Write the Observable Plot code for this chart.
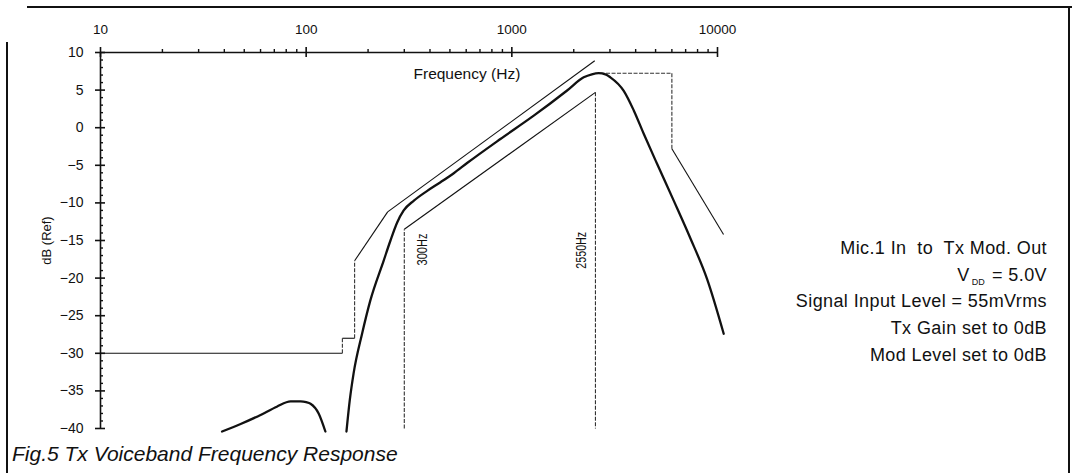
<!DOCTYPE html>
<html>
<head>
<meta charset="utf-8">
<script src="https://cdn.jsdelivr.net/npm/d3@7"></script>
<script src="https://cdn.jsdelivr.net/npm/@observablehq/plot@0.6"></script>
<style>
  html, body { margin: 0; padding: 0; background: #fff; }
  #wrap { position: relative; width: 1074px; height: 473px; overflow: hidden; background: #fff;
          font-family: "Liberation Sans", Arial, Helvetica, sans-serif; color: #111; }
  #chart { position: absolute; left: 0; top: 0; }
  .border { position: absolute; background: #111; }
  #notes { position: absolute; right: 27px; top: 235px; text-align: right; font-size: 18px; letter-spacing: 0.4px; }
  #notes div { height: 26.7px; line-height: 26.7px; white-space: pre; }
  #notes .sub { font-size: 9px; vertical-align: -4px; letter-spacing: 0; margin-left: 2px; margin-right: 2px; }
  #caption { position: absolute; left: 12px; top: 443px; font-size: 21px; line-height: 21px; font-style: italic; white-space: nowrap; }
</style>
</head>
<body>
<div id="wrap">
  <div id="chart"></div>
  <div class="border" style="left:27px; top:6px; width:1045px; height:2px;"></div>
  <div class="border" style="left:1068px; top:6px; width:2px; height:467px;"></div>
  <div class="border" style="left:6px; top:42px; width:2px; height:431px;"></div>
  <div id="notes"></div>
  <div id="caption"></div>
</div>
<script>
// ---------- data ----------
const majorFreq = [10, 100, 1000, 10000];
const minorFreq = [20, 30, 40, 50, 60, 70, 80, 90,
                   200, 300, 400, 500, 600, 700, 800, 900,
                   2000, 3000, 4000, 5000, 6000, 7000, 8000, 9000];
const majorDb = [10, 5, 0, -5, -10, -15, -20, -25, -30, -35, -40];
const minorDb = [9, 8, 7, 6, 4, 3, 2, 1, -1, -2, -3, -4, -6, -7, -8, -9,
                 -11, -12, -13, -14, -16, -17, -18, -19, -21, -22, -23, -24,
                 -26, -27, -28, -29, -31, -32, -33, -34, -36, -37, -38, -39];

// measured response (thick curve), main band
const respFreq = [157, 163, 170, 187, 205, 238, 257, 277, 298, 334, 388, 450, 522, 606, 880, 1278, 1857, 2236, 2450, 2645, 2850, 3014, 3500, 3916, 4378, 5083, 6125, 7380, 8893, 10720];
const respDb   = [-40.4, -36.2, -32.7, -27.4, -23.0, -17.7, -15.0, -12.6, -11.0, -9.7, -8.4, -7.25, -6.05, -4.7, -1.5, 1.6, 4.95, 6.7, 7.1, 7.25, 7.1, 6.7, 4.9, 2.3, -0.8, -4.8, -9.7, -14.7, -20.1, -27.4];
// measured response, low-frequency lobe
const lobeFreq = [39, 48, 60, 72, 84, 94, 100, 105, 115, 124];
const lobeDb   = [-40.4, -39.4, -38.2, -37.1, -36.4, -36.4, -36.5, -36.7, -38.0, -40.4];

// upper limit mask (low side and high side) and lower limit mask
const upperLowFreq  = [10, 150, 150, 172, 172, 249, 2530];
const upperLowDb    = [-30, -30, -28, -28, -17.7, -11.2, 8.9];
const upperHighFreq = [2700, 6000, 6000, 10700];
const upperHighDb   = [7.25, 7.25, -2.8, -14.2];
const lowerFreq     = [300, 300, 2550, 2550];
const lowerDb       = [-40, -13.5, 4.7, -40];

const markerFreq   = [300, 2550];
const markerLabels = ["300Hz", "2550Hz"];

const xLabel = "Frequency (Hz)";
const yLabel = "dB (Ref)";
const noteLines = ["Mic.1 In  to  Tx Mod. Out", "V|DD| = 5.0V", "Signal Input Level = 55mVrms", "Tx Gain set to 0dB", "Mod Level set to 0dB"];
const captionText = "Fig.5 Tx Voiceband Frequency Response";

// ---------- build tables ----------
const toPts = (fs, ds) => fs.map((f, i) => ({f, db: ds[i]}));
function segments(fs, ds) {
  const s = [];
  for (let i = 0; i + 1 < fs.length; i++) {
    s.push({f1: fs[i], d1: ds[i], f2: fs[i + 1], d2: ds[i + 1],
            dashed: fs[i] === fs[i + 1] || (ds[i] === ds[i + 1] && ds[i] > 0)});
  }
  return s;
}
const maskSegs = [
  ...segments(upperLowFreq, upperLowDb),
  ...segments(upperHighFreq, upperHighDb),
  ...segments(lowerFreq, lowerDb)
];
const markers = markerFreq.map((f, i) => ({f, label: markerLabels[i]}));
const fmt = d => (d < 0 ? "\u2212" + Math.abs(d) : String(d));

const ink = "#111";
const plot = Plot.plot({
  width: 1074,
  height: 432,
  marginTop: 52,
  marginBottom: 4,
  marginLeft: 100,
  marginRight: 357,
  x: {type: "log", domain: [10, 10000], axis: null},
  y: {domain: [-40, 10], axis: null},
  style: {fontFamily: "'Liberation Sans', Arial, Helvetica, sans-serif", fontSize: "13px", background: "#fff", overflow: "visible", color: ink},
  marks: [
    // axes lines
    Plot.ruleY([10], {stroke: ink, strokeWidth: 1.6}),
    Plot.ruleX([10], {stroke: ink, strokeWidth: 1.6}),
    // x ticks
    Plot.ruleX(majorFreq, {x: d => d, y1: 10, y2: 10, insetTop: -5, insetBottom: -5, stroke: ink, strokeWidth: 1.6}),
    Plot.ruleX(minorFreq, {x: d => d, y1: 10, y2: 10, insetTop: -3, insetBottom: 0, stroke: ink, strokeWidth: 1.4}),
    // y ticks
    Plot.ruleY(majorDb, {y: d => d, x1: 10, x2: 10, insetLeft: -5, insetRight: -5, stroke: ink, strokeWidth: 1.6}),
    Plot.ruleY(minorDb, {y: d => d, x1: 10, x2: 10, insetLeft: 0, insetRight: -3, stroke: ink, strokeWidth: 1.4}),
    // tick labels
    Plot.text(majorFreq, {x: d => d, y: 10, text: d => String(d), lineAnchor: "bottom", dy: -19, fontSize: 13.5, fill: ink}),
    Plot.text(majorDb, {x: 10, y: d => d, text: fmt, textAnchor: "end", dx: -17, fontSize: 14, fill: ink}),
    // axis labels
    Plot.text([xLabel], {frameAnchor: "top-left", text: d => d, textAnchor: "start", lineAnchor: "bottom", dx: 313, dy: 26, fontSize: 15.5, fill: ink}),
    Plot.text([yLabel], {frameAnchor: "left", text: d => d, rotate: -90, textAnchor: "middle", dx: -54, fontSize: 13, fill: ink}),
    // mask lines
    Plot.link(maskSegs.filter(s => !s.dashed), {x1: "f1", y1: "d1", x2: "f2", y2: "d2", stroke: ink, strokeWidth: 1.1}),
    Plot.link(maskSegs.filter(s => s.dashed), {x1: "f1", y1: "d1", x2: "f2", y2: "d2", stroke: "#333", strokeWidth: 1.1, strokeDasharray: "4,1.5"}),
    // marker labels
    Plot.text(markers.filter((d, i) => i === 0), {x: "f", y: -16.2, text: "label", rotate: -90, textAnchor: "middle", dx: 18, fontSize: 15, fill: ink}),
    Plot.text(markers.filter((d, i) => i === 1), {x: "f", y: -16.3, text: "label", rotate: -90, textAnchor: "middle", dx: -14, fontSize: 15, fill: ink}),
    // measured response
    Plot.line(toPts(lobeFreq, lobeDb), {x: "f", y: "db", stroke: ink, strokeWidth: 2.3, curve: "monotone-x"}),
    Plot.line(toPts(respFreq, respDb), {x: "f", y: "db", stroke: ink, strokeWidth: 2.3, curve: "monotone-x"})
  ]
});
document.getElementById("chart").appendChild(plot);

// condense the rotated marker labels like the original narrow typeface
const markerLen = {"300Hz": 32, "2550Hz": 37};
d3.select(plot).selectAll("text").each(function() {
  const t = this.textContent;
  if (markerLen[t]) {
    d3.select(this).attr("textLength", markerLen[t]).attr("lengthAdjust", "spacingAndGlyphs");
  }
});

// notes block (HTML for the V_DD subscript)
const notes = document.getElementById("notes");
for (const line of noteLines) {
  const div = document.createElement("div");
  const parts = line.split("|");
  parts.forEach((p, i) => {
    if (i % 2 === 1) {
      const s = document.createElement("span");
      s.className = "sub";
      s.textContent = p;
      div.appendChild(s);
    } else {
      div.appendChild(document.createTextNode(p));
    }
  });
  notes.appendChild(div);
}
document.getElementById("caption").textContent = captionText;
</script>
</body>
</html>
